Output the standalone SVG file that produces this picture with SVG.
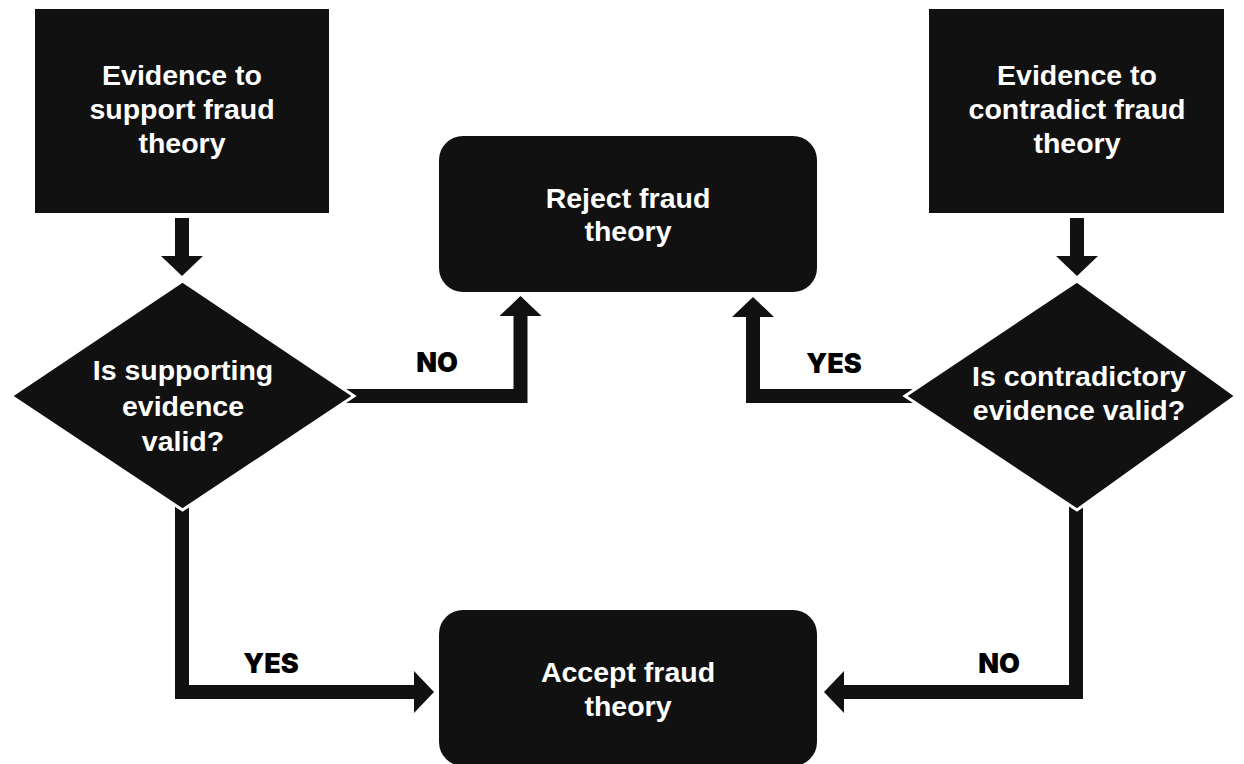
<svg xmlns="http://www.w3.org/2000/svg" width="1244" height="764" viewBox="0 0 1244 764">
  <style>
    .shape { fill: #111111; }
    .decision { fill: #111111; stroke: #ffffff; stroke-width: 3; stroke-linejoin: miter; }
    .txt { font-family: "Liberation Sans", Arial, Helvetica, sans-serif; font-weight: bold; font-size: 28.5px; fill: #ffffff; text-anchor: middle; }
    .lbl { font-family: "Inter", "Lato", "Liberation Sans", Arial, sans-serif; font-weight: 900; font-size: 27px; fill: #000000; text-anchor: middle; }
    .flow { fill: none; stroke: #111111; stroke-width: 14; stroke-linejoin: miter; stroke-linecap: butt; marker-end: url(#head); }
  </style>
  <defs>
    <marker id="head" viewBox="0 0 20 42" markerWidth="20" markerHeight="42" refX="0" refY="21" orient="auto" markerUnits="userSpaceOnUse">
      <path d="M0,0 L20,21 L0,42 Z" fill="#111111"/>
    </marker>
  </defs>

  <rect width="1244" height="764" fill="#ffffff"/>

  <!-- connectors -->
  <g id="connectors">
    <path class="flow" d="M182,218 V256"/>
    <path class="flow" d="M1077,218 V256"/>
    <path class="flow" d="M300,396 H520.5 V316"/>
    <path class="flow" d="M960,396 H753 V317"/>
    <path class="flow" d="M182,470 V692 H414"/>
    <path class="flow" d="M1076,470 V692 H844"/>
    <text class="lbl" x="437" y="372">NO</text>
    <text class="lbl" x="834" y="373">YES</text>
    <text class="lbl" x="271" y="673">YES</text>
    <text class="lbl" x="999" y="673">NO</text>
  </g>

  <!-- evidence for the theory -->
  <g id="support-evidence">
    <rect class="shape" x="35" y="9" width="294" height="204"/>
    <text class="txt" x="182" y="85">Evidence to</text>
    <text class="txt" x="182" y="119">support fraud</text>
    <text class="txt" x="182" y="153">theory</text>
  </g>

  <!-- evidence against the theory -->
  <g id="contradict-evidence">
    <rect class="shape" x="929" y="9" width="295" height="204"/>
    <text class="txt" x="1077" y="85">Evidence to</text>
    <text class="txt" x="1077" y="119">contradict fraud</text>
    <text class="txt" x="1077" y="153">theory</text>
  </g>

  <!-- outcome: reject -->
  <g id="reject">
    <rect class="shape" x="439" y="136" width="378" height="156" rx="24" ry="24"/>
    <text class="txt" x="628" y="208">Reject fraud</text>
    <text class="txt" x="628" y="241">theory</text>
  </g>

  <!-- outcome: accept -->
  <g id="accept">
    <rect class="shape" x="439" y="610" width="378" height="156" rx="24" ry="24"/>
    <text class="txt" x="628" y="682">Accept fraud</text>
    <text class="txt" x="628" y="716">theory</text>
  </g>

  <!-- decision on supporting evidence -->
  <g id="support-valid">
    <polygon class="decision" points="182.5,281 354,396 182.5,510 11,396"/>
    <text class="txt" x="183" y="380">Is supporting</text>
    <text class="txt" x="183" y="416">evidence</text>
    <text class="txt" x="183" y="451">valid?</text>
  </g>

  <!-- decision on contradictory evidence -->
  <g id="contradict-valid">
    <polygon class="decision" points="1077,281 1236,396 1077,510 905,396"/>
    <text class="txt" x="1079" y="386">Is contradictory</text>
    <text class="txt" x="1079" y="420">evidence valid?</text>
  </g>
</svg>
